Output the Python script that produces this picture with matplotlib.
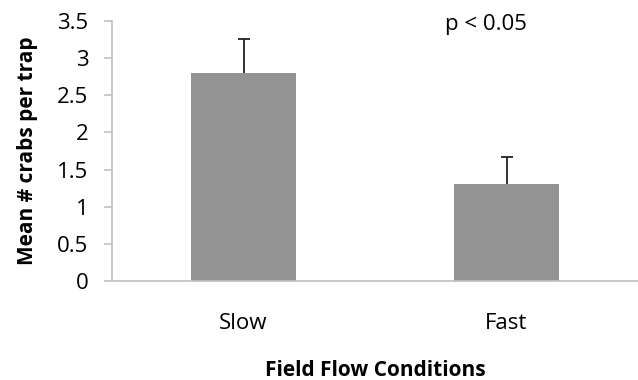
import matplotlib.pyplot as plt

conditions = ["Slow", "Fast"]
mean_crabs = [2.8, 1.3]
err_upper = [0.46, 0.37]

plt.rcParams["font.family"] = ["Open Sans", "DejaVu Sans"]

fig = plt.figure(figsize=(6.38, 3.8), dpi=100)
ax = fig.add_axes([112 / 638, 1 - 281 / 380, 526 / 638, 260 / 380])

x = list(range(len(conditions)))
tops = [m + e for m, e in zip(mean_crabs, err_upper)]

ax.bar(x, mean_crabs, width=0.4, color="#939393", zorder=2)
# upper-only error bars: stem from bar top plus a cap at the top end
ax.vlines(x, mean_crabs, tops, color="#222222", linewidth=1.3, zorder=3)
ax.plot(x, tops, linestyle="none", marker="_", markersize=8,
        markeredgewidth=1.3, color="#222222", zorder=3)

ax.set_xlim(-0.5, 1.5)
ax.set_ylim(0, 3.5)
ax.set_yticks([0, 0.5, 1, 1.5, 2, 2.5, 3, 3.5])
ax.set_yticklabels(["0", "0.5", "1", "1.5", "2", "2.5", "3", "3.5"])
ax.set_xticks(x)
ax.set_xticklabels(conditions)

for side in ["top", "right"]:
    ax.spines[side].set_visible(False)
for side in ["left", "bottom"]:
    ax.spines[side].set_color("#bfbfbf")
    ax.spines[side].set_linewidth(1.2)

ax.tick_params(axis="y", colors="#bfbfbf", labelcolor="black", labelsize=16,
               length=6, width=1.2, pad=11)
ax.tick_params(axis="x", length=0, labelsize=16, pad=23)

ax.set_ylabel("Mean # crabs per trap", fontsize=15, fontweight="bold", labelpad=14)
ax.set_xlabel("Field Flow Conditions", fontsize=15, fontweight="bold", labelpad=19)

ax.text(0.711, 0.988, "p < 0.05", transform=ax.transAxes, ha="center", va="center",
        fontsize=16)

fig.savefig("out.png", dpi=100)
